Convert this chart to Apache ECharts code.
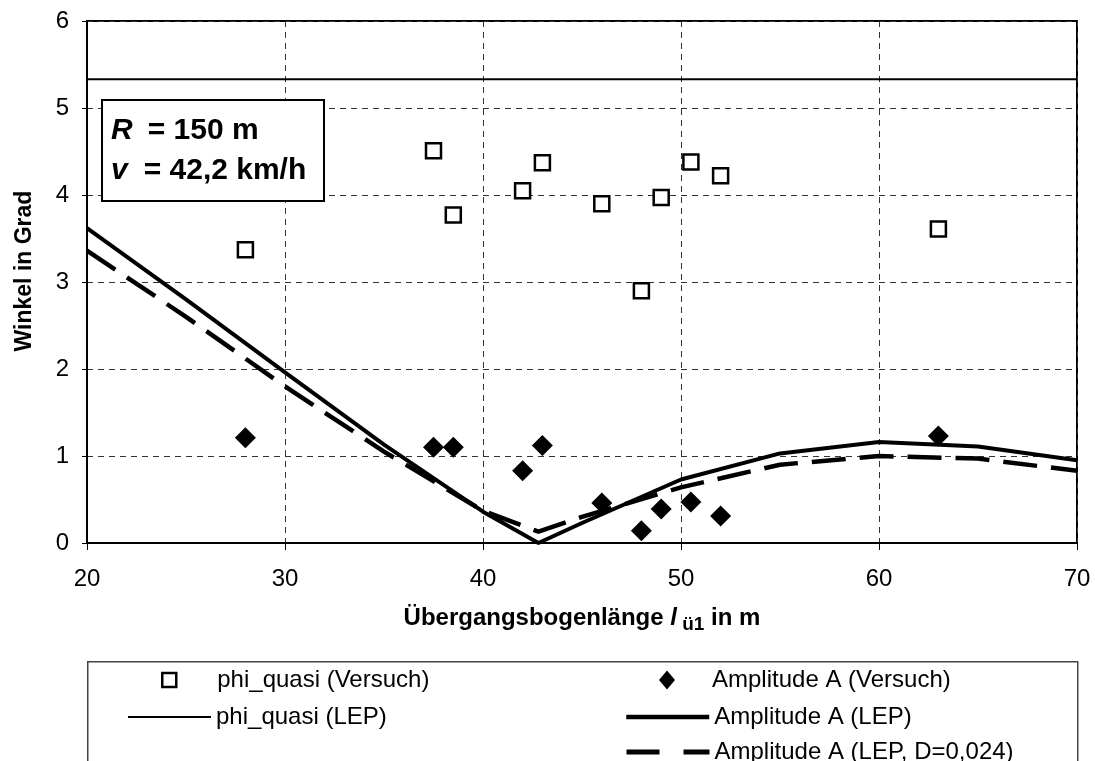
<!DOCTYPE html>
<html>
<head>
<meta charset="utf-8">
<script src="https://cdn.jsdelivr.net/npm/echarts@6/dist/echarts.min.js"></script>
<style>html,body{margin:0;padding:0;background:#fff;}#c{width:1095px;height:761px;}</style>
</head>
<body>
<div id="c"></div>
<script>
// ---- data ----
const xVersuch   = [28, 37.5, 38.5, 42, 43, 46, 48, 49, 50.5, 52, 63];
const phiVersuch = [3.37, 4.51, 3.77, 4.05, 4.37, 3.90, 2.90, 3.97, 4.38, 4.22, 3.61];
const ampVersuch = [1.21, 1.10, 1.10, 0.83, 1.12, 0.46, 0.14, 0.39, 0.47, 0.31, 1.23];
const phiLepX    = [20, 70];
const phiLep     = [5.33, 5.33];
const lepX       = [20, 25, 30, 35, 40, 42.8, 45, 50, 55, 60, 65, 70];
const ampLep     = [3.62, 2.80, 1.96, 1.13, 0.36, 0.00, 0.23, 0.73, 1.03, 1.16, 1.11, 0.95];
const ampLepD    = [3.36, 2.60, 1.80, 1.05, 0.37, 0.13, 0.30, 0.64, 0.90, 1.00, 0.97, 0.83];
const seriesNames = ['phi_quasi (Versuch)', 'phi_quasi (LEP)', 'Amplitude A (Versuch)', 'Amplitude A (LEP)', 'Amplitude A (LEP, D=0,024)'];
const xTitle = 'Übergangsbogenlänge ';
const yTitle = 'Winkel in Grad';
const infoR = '= 150 m';
const infoV = '= 42,2 km/h';

const zip = (xs, ys) => xs.map((x, i) => [x, ys[i]]);
const FONT = '"Liberation Sans", Arial, sans-serif';

const chart = echarts.init(document.getElementById('c'), null, {renderer: 'canvas'});

const legendBase = {
  orient: 'horizontal', padding: 0, selectedMode: false,
  textStyle: {fontSize: 24, color: '#000', fontFamily: FONT}
};

const option = {
  backgroundColor: '#fff',
  animation: false,
  textStyle: {fontFamily: FONT},
  grid: {left: 87, right: 18, top: 21, bottom: 218, show: true, borderColor: '#000', borderWidth: 2, backgroundColor: '#fff'},
  xAxis: {
    type: 'value', min: 20, max: 70, interval: 10,
    axisLine: {show: true, onZero: false, lineStyle: {color: '#000', width: 2}},
    axisTick: {show: true, length: 7, lineStyle: {color: '#000', width: 1}},
    axisLabel: {fontSize: 24, color: '#000', margin: 24, fontFamily: FONT},
    splitLine: {show: true, lineStyle: {type: [6, 5], color: '#333', width: 1}},
    name: '{b|' + xTitle + '}{i|l}{s| ü1}{b| in m}',
    nameLocation: 'middle', nameGap: 60,
    nameTextStyle: {
      rich: {
        b: {fontSize: 24, fontWeight: 'bold', color: '#000', fontFamily: FONT, lineHeight: 30},
        i: {fontSize: 24, fontWeight: 'bold', fontStyle: 'italic', color: '#000', fontFamily: FONT, lineHeight: 30},
        s: {fontSize: 19, fontWeight: 'bold', color: '#000', fontFamily: FONT, padding: [14, 0, 0, 0], lineHeight: 30}
      }
    }
  },
  yAxis: {
    type: 'value', min: 0, max: 6, interval: 1,
    axisLine: {show: true, onZero: false, lineStyle: {color: '#000', width: 2}},
    axisTick: {show: true, length: 5, lineStyle: {color: '#000', width: 1}},
    axisLabel: {fontSize: 24, color: '#000', margin: 18, fontFamily: FONT},
    splitLine: {show: true, lineStyle: {type: [6, 5], color: '#333', width: 1}},
    name: yTitle, nameLocation: 'middle', nameGap: 51,
    nameTextStyle: {fontSize: 23, fontWeight: 'bold', color: '#000', fontFamily: FONT, padding: [0, 0, 0, 22]}
  },
  legend: [
    Object.assign({}, legendBase, {data: [seriesNames[0]], left: 161, top: 668, itemWidth: 14, itemHeight: 14,
      itemStyle: {color: '#fff', borderColor: '#000', borderWidth: 2.5, opacity: 1},
      textStyle: Object.assign({}, legendBase.textStyle, {padding: [0, 0, 0, 36]})}),
    Object.assign({}, legendBase, {data: [seriesNames[1]], left: 127, top: 705, itemWidth: 83, itemHeight: 14,
      itemStyle: {opacity: 0}, lineStyle: {width: 2, color: '#000'}}),
    Object.assign({}, legendBase, {data: [seriesNames[2]], left: 659, top: 668, itemWidth: 16, itemHeight: 19,
      itemStyle: {color: '#000', opacity: 1},
      textStyle: Object.assign({}, legendBase.textStyle, {padding: [0, 0, 0, 32]})}),
    Object.assign({}, legendBase, {data: [seriesNames[3]], left: 624, top: 705, itemWidth: 83, itemHeight: 14,
      itemStyle: {opacity: 0}, lineStyle: {width: 4.5, color: '#000'}}),
    Object.assign({}, legendBase, {data: [seriesNames[4]], left: 624, top: 740, itemWidth: 83, itemHeight: 14,
      itemStyle: {opacity: 0}, lineStyle: {width: 5, color: '#000', type: [33, 24]}})
  ],
  graphic: [
    {type: 'rect', left: 87, top: 661, z: 0, shape: {width: 990, height: 130},
     style: {fill: '#fff', stroke: '#444', lineWidth: 1.5}},
    {type: 'rect', left: 101, top: 99, z: 100, shape: {width: 222, height: 101},
     style: {fill: '#fff', stroke: '#000', lineWidth: 2}},
    {type: 'text', left: 111, top: 116, z: 101,
     style: {text: '{bi|R}{b|' + infoR + '}', rich: {
       bi: {fontSize: 30, fontWeight: 'bold', fontStyle: 'italic', fill: '#000', fontFamily: FONT, padding: [0, 15, 0, 0]},
       b: {fontSize: 30, fontWeight: 'bold', fill: '#000', fontFamily: FONT}}}},
    {type: 'text', left: 111, top: 156, z: 101,
     style: {text: '{bi|v}{b|' + infoV + '}', rich: {
       bi: {fontSize: 30, fontWeight: 'bold', fontStyle: 'italic', fill: '#000', fontFamily: FONT, padding: [0, 16, 0, 0]},
       b: {fontSize: 30, fontWeight: 'bold', fill: '#000', fontFamily: FONT}}}}
  ],
  series: [
    {name: seriesNames[0], type: 'scatter', data: zip(xVersuch, phiVersuch), symbol: 'rect', symbolSize: 15,
     itemStyle: {color: '#fff', borderColor: '#000', borderWidth: 2.5, opacity: 1}, z: 5},
    {name: seriesNames[1], type: 'line', data: zip(phiLepX, phiLep), symbol: 'none',
     lineStyle: {color: '#000', width: 2}, itemStyle: {color: '#000'}, z: 3},
    {name: seriesNames[2], type: 'scatter', data: zip(xVersuch, ampVersuch), symbol: 'diamond', symbolSize: 21,
     itemStyle: {color: '#000', opacity: 1}, z: 5},
    {name: seriesNames[3], type: 'line', data: zip(lepX, ampLep), symbol: 'none',
     lineStyle: {color: '#000', width: 4}, itemStyle: {color: '#000'}, z: 4},
    {name: seriesNames[4], type: 'line', data: zip(lepX, ampLepD), symbol: 'none',
     lineStyle: {color: '#000', width: 4.5, type: [34, 14]}, itemStyle: {color: '#000'}, z: 4}
  ]
};
chart.setOption(option);
</script>
</body>
</html>
